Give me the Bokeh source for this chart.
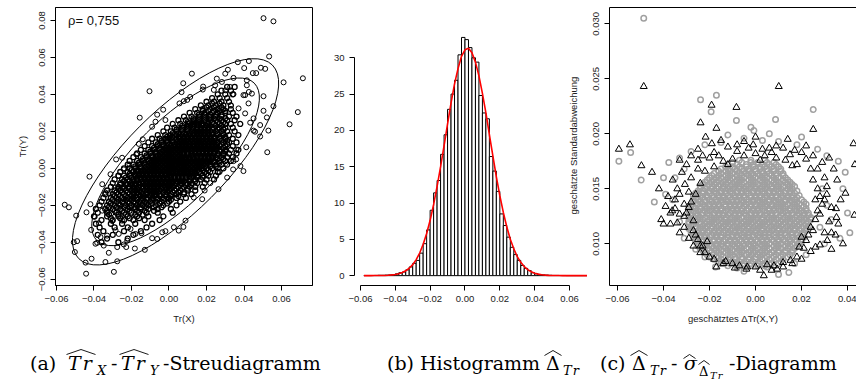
import math
from bokeh.plotting import figure
from bokeh.models import Range1d, FixedTicker, LinearAxis, Label, Div
from bokeh.layouts import row, column
from bokeh.embed import file_html
from bokeh.resources import INLINE

SANS = "Liberation Sans"

# ---------------- panel (a): scatter Tr(X) vs Tr(Y), values in units of 0.001 ----------------
a_core_rows = [
    (-40, [-36, -27]),
    (-38, [-33, -22]),
    (-36, [-38, -30, -19]),
    (-34, [-35, -24, -15]),
    (-32, [-37, -29, -22, -12]),
    (-30, [-39, -31, -25, -18, -9]),
    (-28, [-36, -30, -24, -19, -13, -5]),
    (-26, [-40, -33, -27, -22, -17, -11, -3]),
    (-24, [-38, -33, -28, -24, -20, -16, -12, -6, 2]),
    (-22, [-39, -34, -30, -26, -22, -18, -15, -11, -6, 1]),
    (-20, [-37, -33, -29, -26, -23, -20, -17, -14, -11, -7, -3, 4]),
    (-18, [-36, -32, -28, -25, -22, -19, -16, -13, -10, -7, -4, 0, 6]),
    (-16, [-35, -31, -28, -25, -22, -19, -17, -14, -12, -9, -6, -3, 0, 4, 9]),
    (-14, [-34, -30, -27, -24, -21, -19, -16, -14, -12, -9, -7, -5, -2, 1, 4, 8, 12]),
    (-12, [-33, -29, -26, -23, -20, -18, -16, -13, -11, -9, -7, -5, -2, 0, 3, 6, 10, 14]),
    (-10, [-31, -27, -24, -21, -19, -16, -14, -12, -10, -8, -6, -4, -2, 0, 2, 5, 8, 11, 14, 18]),
    (-8, [-30, -26, -23, -20, -18, -16, -14, -12, -10, -8, -6, -4, -2, 0, 2, 4, 6, 9, 12, 15, 19]),
    (-6, [-29, -25, -22, -19, -17, -15, -13, -11, -9, -7, -5, -3, -1, 1, 3, 5, 7, 9, 11, 14, 17, 20, 24]),
    (-4, [-27, -24, -21, -18, -16, -14, -12, -10, -8, -6, -4, -2, 0, 1, 3, 5, 7, 9, 11, 13, 15, 18, 21, 25]),
    (-2, [-26, -22, -19, -17, -15, -13, -11, -9, -7, -5, -3, -1, 0, 2, 4, 6, 8, 10, 12, 14, 16, 19, 22, 26]),
    (0, [-24, -21, -18, -15, -13, -11, -9, -7, -5, -3, -1, 1, 2, 4, 6, 8, 10, 12, 14, 16, 18, 20, 23, 26, 29]),
    (2, [-22, -19, -16, -13, -11, -9, -7, -5, -3, -1, 1, 3, 4, 6, 8, 10, 12, 14, 16, 18, 20, 22, 25, 28, 31]),
    (4, [-21, -17, -14, -11, -9, -7, -5, -3, -1, 1, 3, 5, 6, 8, 10, 12, 14, 16, 18, 20, 22, 24, 27, 30, 33]),
    (6, [-19, -15, -12, -9, -7, -5, -3, -1, 1, 3, 5, 7, 9, 11, 13, 15, 17, 19, 21, 23, 25, 28, 31, 34]),
    (8, [-17, -13, -10, -7, -5, -3, -1, 1, 3, 5, 7, 8, 10, 12, 14, 16, 18, 20, 22, 24, 26, 29, 32, 36]),
    (10, [-15, -11, -8, -5, -3, -1, 1, 3, 5, 7, 9, 11, 13, 15, 17, 19, 21, 23, 25, 27, 30, 33, 37]),
    (12, [-13, -9, -6, -3, -1, 1, 3, 5, 7, 9, 11, 13, 15, 17, 19, 21, 23, 25, 27, 30, 34]),
    (14, [-11, -7, -4, -1, 2, 4, 6, 8, 10, 12, 14, 16, 18, 20, 22, 24, 26, 29, 32, 36]),
    (16, [-9, -5, -2, 1, 4, 6, 8, 10, 12, 14, 16, 18, 20, 22, 24, 27, 30, 34]),
    (18, [-6, -2, 1, 4, 7, 9, 11, 13, 15, 17, 19, 21, 23, 26, 29, 32, 37]),
    (20, [-3, 1, 4, 7, 10, 12, 14, 16, 18, 20, 22, 25, 28, 31, 35]),
    (22, [-1, 3, 7, 10, 13, 15, 17, 19, 21, 24, 27, 30, 34]),
    (24, [2, 6, 10, 13, 16, 18, 21, 24, 27, 30, 33, 38]),
    (26, [5, 9, 13, 16, 19, 22, 25, 28, 31, 35]),
    (28, [8, 12, 16, 19, 22, 25, 28, 32, 36]),
    (30, [11, 15, 19, 23, 26, 30, 34]),
    (32, [14, 18, 22, 26, 29, 33]),
    (34, [17, 21, 25, 29, 33]),
    (36, [20, 24, 28, 32]),
    (38, [23, 27, 31]),
    (40, [26, 30, 34]),
    (42, [28, 33]),
    (44, [31, 35]),
    (-27, [-31, -26, -21, -16]),
    (-25, [-32, -27, -23, -18, -14]),
    (-23, [-33, -29, -25, -21, -17, -13, -8]),
    (-21, [-32, -28, -24, -21, -18, -15, -12, -8, -4]),
    (-19, [-31, -27, -24, -21, -18, -15, -12, -9, -5, -1]),
    (-17, [-30, -27, -23, -20, -17, -15, -12, -9, -6, -3, 1]),
    (-15, [-29, -26, -23, -20, -18, -15, -13, -10, -8, -5, -2, 1, 5]),
    (-13, [-28, -25, -22, -19, -17, -15, -12, -10, -8, -6, -3, -1, 2, 5, 8]),
    (-11, [-27, -24, -21, -19, -17, -14, -12, -10, -8, -6, -4, -1, 1, 4, 7, 10]),
    (-9, [-26, -23, -20, -18, -16, -13, -11, -9, -7, -5, -3, -1, 1, 3, 6, 9, 12]),
    (-7, [-24, -21, -19, -17, -14, -12, -10, -8, -6, -4, -2, 0, 2, 4, 6, 8, 11, 14]),
    (-5, [-23, -20, -17, -15, -13, -11, -9, -7, -5, -3, -1, 1, 3, 5, 7, 9, 12, 15, 18]),
    (-3, [-21, -18, -16, -14, -12, -10, -8, -6, -4, -2, 0, 2, 4, 6, 8, 10, 12, 14, 17, 20]),
    (-1, [-20, -17, -14, -12, -10, -8, -6, -4, -2, 0, 1, 3, 5, 7, 9, 11, 13, 15, 18, 21]),
    (1, [-18, -15, -12, -10, -8, -6, -4, -2, 0, 2, 3, 5, 7, 9, 11, 13, 15, 17, 19, 22, 25]),
    (3, [-16, -13, -10, -8, -6, -4, -2, 0, 2, 4, 5, 7, 9, 11, 13, 15, 17, 19, 21, 24, 27]),
    (5, [-14, -11, -8, -6, -4, -2, 0, 2, 4, 6, 7, 9, 11, 13, 15, 17, 19, 21, 23, 26, 29]),
    (7, [-12, -9, -6, -4, -2, 0, 2, 4, 6, 8, 10, 12, 13, 15, 17, 19, 21, 23, 26, 29]),
    (9, [-10, -7, -4, -2, 0, 2, 4, 6, 8, 10, 12, 14, 16, 18, 20, 22, 24, 27, 30]),
    (11, [-8, -5, -2, 0, 2, 4, 6, 8, 10, 12, 14, 16, 18, 20, 22, 24, 26, 29]),
    (13, [-6, -3, 0, 3, 5, 7, 9, 11, 13, 15, 17, 19, 21, 23, 25, 28, 31]),
    (15, [-4, -1, 2, 5, 7, 9, 11, 13, 15, 17, 19, 21, 23, 25, 28, 31]),
    (17, [-1, 2, 5, 8, 10, 12, 14, 16, 18, 20, 22, 24, 27, 30]),
    (19, [2, 5, 8, 11, 13, 15, 17, 19, 21, 23, 26, 29]),
    (21, [4, 7, 10, 13, 15, 17, 19, 21, 23, 26, 29]),
    (23, [7, 10, 13, 16, 18, 20, 22, 25, 28]),
    (25, [10, 13, 16, 19, 21, 23, 26, 29]),
    (27, [13, 16, 19, 22, 24, 27, 30]),
    (29, [16, 19, 22, 25, 28]),
    (31, [18, 21, 24, 27, 30]),
    (33, [20, 24, 28]),
    (35, [23, 27]),
]
a_out_x = [50.4, 55.7, 53.4, 71.4, 61.1, 68.7, 64.3, 42.6, 36.7, 40.1, 49.0, 51.3, 46.5, 44.7, 31.4,
           30.0, 25.5, 12.2, 34.4, 41.5, 50.4, 55.7, 52.2, 50.4, 48.6, 53.0, 45.1, 43.3, 42.6, 44.2,
           40.6, 41.5, 18.0, 11.3, 30.0, 34.4, 39.7, 37.1, 42.4, 45.1, 40.6, 48.6, 45.9, 24.6, 28.2,
           32.6, 52.4, 41.2, 36.0, 35.8, 34.4,
           -10.4, -15.6, 7.6, 6.7, 7.9, 5.6, 9.7, -6.3, -3.1, -9.0, -7.2, -1.9, -14.0, -16.1, 23.9,
           18.2, -17.5, -25.0, -21.1, -24.1, -28.2, -31.2, -26.8, -23.6,
           -55.6, -53.4, -42.4, -49.5, -50.8, -49.0, -50.2, -44.2, -44.5, -41.3, -33.9, -29.4, -27.6,
           -44.0, -41.9, -18.2, -12.9, -9.0, -3.6, -6.3, -22.8, -27.6, -41.5, -36.5, -39.2, -34.8,
           -33.0, -28.5, -30.3, -35.6, -33.9, -32.1, -39.6, -37.4, -38.3, -32.1, -24.1, -22.3, -17.9,
           -14.7, -1.9, 2.6, -26.8, -25.0, -20.5, -35.6, -30.7, -27.6, -31.7, -28.9,
           39.7, 38.1, 34.2, 31.0, 26.4, 17.7, 13.2, 8.8, 7.7, 5.2, 22.0, 27.0, 19.0]
a_out_y = [81.2, 79.5, 60.5, 48.7, 46.5, 30.4, 23.8, 58.0, 57.4, 54.2, 54.4, 53.8, 51.5, 51.5, 53.3,
           51.2, 48.5, 51.2, 48.9, 47.6, 39.0, 33.6, 27.5, 31.1, 23.4, 20.4, 20.4, 24.7, 41.3, 40.4,
           39.6, 44.9, 42.6, 38.6, 42.2, 40.1, 39.6, 32.4, 35.1, 27.0, 29.7, 17.2, 19.8, 44.9, 46.7,
           44.0, 8.7, 11.4, 10.2, 4.8, 3.9,
           41.7, 27.4, 46.0, 41.2, 36.3, 35.1, 37.0, 29.0, 31.7, 22.5, 25.2, 26.1, 15.7, 13.2, 42.4,
           44.2, 7.5, 5.7, 2.1, -0.6, 4.8, -3.2, -4.1, -6.8,
           -19.7, -21.1, -4.5, -25.6, -40.0, -39.4, -45.3, -57.0, -51.0, -48.9, -50.7, -56.0, -50.3,
           -23.8, -19.4, -43.4, -44.1, -37.8, -34.6, -38.2, -42.6, -42.6, -33.3, -37.2, -40.8, -41.8,
           -36.4, -33.5, -28.5, -8.6, -13.1, -18.4, -26.2, -29.7, -40.3, -45.7, -41.2, -39.1, -35.5,
           -35.1, -34.0, -31.9, -35.5, -28.3, -32.8, -22.9, -24.3, -21.1, -13.4, -10.4,
           -1.5, 1.2, -0.6, -5.0, -11.3, -16.7, -15.8, -28.3, -31.7, -33.7, -8.0, -2.0, -12.0]
rho_text = "ρ= 0,755"
# contour ellipses (units of 0.001): centre, full axis lengths, rotation in degrees
ell_cx = [3.5, 3.5]
ell_cy = [3.5, 3.5]
ell_width = [118.7, 146.0]
ell_height = [44.3, 54.5]
ell_angle = [45, 45]
a_xticks = [-0.06, -0.04, -0.02, 0.0, 0.02, 0.04, 0.06]
a_xlabels = ["\u22120.06", "\u22120.04", "\u22120.02", "0.00", "0.02", "0.04", "0.06"]
a_yticks = [-0.06, -0.04, -0.02, 0.0, 0.02, 0.04, 0.06, 0.08]
a_ylabels = ["\u22120.06", "\u22120.04", "\u22120.02", "0.00", "0.02", "0.04", "0.06", "0.08"]

# ---------------- panel (b): histogram of the difference ----------------
hist_edges = [-0.058, -0.056, -0.054, -0.052, -0.050, -0.048, -0.046, -0.044, -0.042, -0.040,
              -0.038, -0.036, -0.034, -0.032, -0.030, -0.028, -0.026, -0.024, -0.022, -0.020,
              -0.018, -0.016, -0.014, -0.012, -0.010, -0.008, -0.006, -0.004, -0.002, 0.000,
              0.002, 0.004, 0.006, 0.008, 0.010, 0.012, 0.014, 0.016, 0.018, 0.020,
              0.022, 0.024, 0.026, 0.028, 0.030, 0.032, 0.034, 0.036, 0.038, 0.040,
              0.042, 0.044, 0.046, 0.048, 0.050, 0.052, 0.054, 0.056, 0.058, 0.060,
              0.062, 0.064, 0.066, 0.068, 0.070]
hist_density = [0.02, 0.02, 0.02, 0.03, 0.05, 0.05, 0.08, 0.1,
                0.15, 0.25, 0.4, 0.5, 0.8, 1.2, 1.7,
                2.1, 3.1, 4.4, 6.3, 9.0, 11.4, 13.1,
                16.7, 19.4, 22.9, 25.0, 26.9, 30.4, 32.8,
                32.5, 31.4, 30.0, 29.4, 24.8, 22.4, 21.6,
                16.4, 14.4, 11.6, 8.5, 6.9, 5.3, 3.9,
                2.9, 2.1, 1.4, 1.0, 0.7, 0.4, 0.25,
                0.15, 0.1, 0.08, 0.05, 0.03, 0.03, 0.02,
                0.02, 0.01, 0.01, 0.01, 0.01, 0.01, 0.01]
curve_density = [0.0, 0.0, 0.0, 0.01, 0.01, 0.02, 0.03, 0.06, 0.10, 0.16,
                 0.27, 0.43, 0.67, 1.02, 1.51, 2.21, 3.11, 4.32, 5.8, 7.62,
                 9.8, 12.3, 15.0, 17.9, 20.9, 23.8, 26.4, 28.5, 30.2, 31.1,
                 31.3, 30.7, 29.4, 27.5, 25.1, 22.4, 19.4, 16.5, 13.6, 11.0,
                 8.7, 6.7, 5.0, 3.7, 2.62, 1.83, 1.25, 0.83, 0.54, 0.34,
                 0.21, 0.13, 0.07, 0.04, 0.02, 0.01, 0.01, 0.0, 0.0, 0.0,
                 0.0, 0.0, 0.0, 0.0, 0.0]
b_xticks = [-0.06, -0.04, -0.02, 0.0, 0.02, 0.04, 0.06]
b_xlabels = ["\u22120.06", "\u22120.04", "\u22120.02", "0.00", "0.02", "0.04", "0.06"]
b_yticks = [0, 5, 10, 15, 20, 25, 30]
b_ylabels = ["0", "5", "10", "15", "20", "25", "30"]

# ---------------- panel (c): estimated difference vs. estimated std. deviation ----------------
# gray circles: rows of (std. dev. in units of 0.0001, [difference in units of 0.001])
c_gray_rows = [
    (80, [-12, -8, -5, -2, 1, 4, 8]),
    (84, [-16, -13, -10, -7, -4, -1, 2, 5, 8, 11]),
    (88, [-20, -17, -14, -11, -9, -6, -3, 0, 2, 5, 8, 11, 14]),
    (92, [-22, -19, -16, -13, -11, -8, -6, -3, -1, 2, 4, 7, 10, 13, 16]),
    (96, [-24, -21, -18, -16, -13, -11, -8, -6, -4, -1, 1, 4, 6, 9, 11, 14, 17]),
    (100, [-25, -22, -20, -17, -15, -12, -10, -8, -5, -3, -1, 2, 4, 6, 9, 11, 14, 16, 19]),
    (104, [-26, -23, -21, -18, -16, -13, -11, -9, -7, -4, -2, 0, 3, 5, 7, 10, 12, 15, 17, 20]),
    (108, [-27, -24, -22, -19, -17, -15, -12, -10, -8, -6, -3, -1, 1, 4, 6, 8, 11, 13, 16, 18, 21]),
    (112, [-28, -25, -23, -20, -18, -16, -13, -11, -9, -7, -4, -2, 0, 3, 5, 7, 10, 12, 14, 17, 19, 22]),
    (116, [-28, -26, -23, -21, -19, -16, -14, -12, -9, -7, -5, -3, 0, 2, 4, 7, 9, 11, 14, 16, 18, 21, 23]),
    (120, [-29, -26, -24, -21, -19, -17, -14, -12, -10, -8, -5, -3, -1, 2, 4, 6, 8, 11, 13, 15, 18, 20, 23]),
    (124, [-29, -27, -24, -22, -19, -17, -15, -13, -10, -8, -6, -3, -1, 1, 3, 6, 8, 10, 13, 15, 17, 20, 22, 24]),
    (128, [-28, -26, -23, -21, -18, -16, -14, -11, -9, -7, -5, -2, 0, 2, 5, 7, 9, 12, 14, 16, 19, 21, 23]),
    (132, [-29, -26, -24, -21, -19, -17, -15, -12, -10, -8, -6, -3, -1, 1, 3, 6, 8, 10, 12, 15, 17, 19, 22]),
    (136, [-28, -25, -23, -20, -18, -16, -13, -11, -9, -7, -4, -2, 0, 3, 5, 7, 10, 12, 14, 17, 19, 22]),
    (140, [-27, -25, -22, -20, -17, -15, -13, -10, -8, -6, -4, -1, 1, 3, 6, 8, 10, 13, 15, 17, 20]),
    (144, [-27, -24, -21, -19, -16, -14, -12, -9, -7, -5, -2, 0, 2, 5, 7, 9, 12, 14, 16, 19]),
    (148, [-25, -23, -20, -18, -15, -13, -11, -8, -6, -4, -1, 1, 3, 6, 8, 10, 13, 15, 18]),
    (152, [-24, -21, -19, -16, -14, -11, -9, -7, -4, -2, 0, 3, 5, 7, 10, 12, 15, 17]),
    (156, [-22, -19, -17, -14, -12, -9, -7, -5, -2, 0, 3, 5, 8, 10, 13, 15]),
    (160, [-20, -17, -15, -12, -10, -7, -5, -2, 0, 3, 5, 8, 10, 13]),
    (164, [-18, -15, -12, -10, -7, -4, -2, 1, 3, 6, 9, 12]),
    (168, [-15, -12, -9, -6, -3, 0, 2, 5, 8, 11]),
    (172, [-12, -8, -4, -1, 3, 6, 9]),
    (176, [-7, -2, 4]),
    (82, [-14, -11, -8, -5, -2, 1, 4, 7, 10]),
    (86, [-18, -15, -12, -9, -6, -3, 0, 3, 6, 9, 12]),
    (90, [-21, -18, -15, -12, -10, -7, -4, -2, 1, 3, 6, 9, 12, 15]),
    (94, [-23, -20, -17, -15, -12, -10, -7, -5, -2, 0, 3, 5, 8, 10, 13, 16]),
    (98, [-25, -22, -19, -17, -14, -12, -9, -7, -5, -2, 0, 3, 5, 8, 10, 13, 15, 18]),
    (102, [-26, -23, -21, -18, -16, -14, -11, -9, -6, -4, -2, 1, 3, 5, 8, 10, 13, 15, 18, 20]),
    (106, [-27, -24, -22, -20, -17, -15, -12, -10, -8, -5, -3, -1, 2, 4, 6, 9, 11, 14, 16, 19, 21]),
    (110, [-28, -25, -23, -21, -18, -16, -14, -12, -9, -7, -5, -3, 0, 2, 4, 6, 9, 11, 13, 16, 18, 21]),
    (114, [-29, -26, -24, -22, -19, -17, -15, -12, -10, -8, -6, -3, -1, 1, 3, 6, 8, 10, 13, 15, 17, 20, 22]),
    (118, [-29, -27, -24, -22, -20, -18, -15, -13, -11, -8, -6, -4, -2, 1, 3, 5, 8, 10, 12, 15, 17, 19, 22]),
    (122, [-28, -25, -23, -20, -18, -16, -13, -11, -9, -7, -4, -2, 0, 3, 5, 7, 9, 12, 14, 16, 19, 21, 24]),
    (126, [-28, -25, -23, -20, -18, -16, -14, -12, -9, -7, -4, -2, 0, 2, 4, 7, 9, 11, 14, 16, 18, 21, 23]),
    (130, [-29, -27, -25, -22, -20, -17, -15, -13, -10, -8, -6, -4, -1, 1, 4, 6, 8, 11, 13, 15, 18, 20, 22]),
    (134, [-29, -27, -24, -22, -20, -18, -16, -13, -11, -9, -7, -5, -2, 0, 2, 4, 7, 9, 11, 13, 16, 18, 21]),
    (138, [-27, -24, -22, -19, -17, -14, -12, -10, -8, -5, -3, -1, 2, 4, 6, 9, 11, 13, 16, 18, 21]),
    (142, [-26, -23, -21, -18, -16, -14, -11, -9, -7, -5, -2, 0, 2, 4, 7, 9, 11, 14, 16, 18]),
    (146, [-26, -23, -20, -17, -15, -13, -10, -8, -6, -3, -1, 1, 4, 6, 8, 11, 13, 15, 17]),
    (150, [-24, -22, -19, -17, -14, -12, -10, -7, -5, -3, 0, 2, 4, 7, 9, 11, 14, 16]),
    (154, [-23, -20, -18, -15, -13, -10, -8, -6, -3, -1, 1, 4, 6, 9, 11, 14, 16]),
    (158, [-21, -18, -16, -13, -11, -8, -6, -3, -1, 2, 4, 7, 9, 12, 14]),
    (162, [-19, -16, -13, -11, -8, -6, -3, -1, 2, 4, 7, 9, 12]),
    (166, [-16, -13, -11, -8, -5, -3, 0, 3, 5, 8, 11]),
    (170, [-13, -10, -7, -4, -1, 2, 4, 7, 10]),
    (174, [-10, -6, -2, 1, 5, 8]),
]
c_gray_extra_x = [-48.6, -23.9, -17.0, -19.3, -8.3, 8.7, 25.1, -0.7, -59.4, -54.3, -49.7, -37.7, -39.1,
                  -17.4, 14.5, 36.7, -22, -15, -5, 3, 10, 18, 27, 31, -28, -33, 36, 39, -35, -31,
                  -36, -33, -31, 29, 31, 28, 33, 30, 22, -26, -22, -15, -8, 5, 17, 40, 38, -2, 6,
                  -12, 20, -5, 10, -44, -40, 41, 46]
c_gray_extra_y = [305, 231, 235, 220, 212, 213, 222, 203, 175, 183, 158, 174, 145,
                  79, 74, 105, 190, 192, 196, 194, 193, 190, 186, 180, 184, 178, 175, 165, 160, 168,
                  140, 120, 105, 150, 135, 115, 122, 100, 90, 95, 88, 82, 78, 79, 82, 128, 150, 206, 200,
                  199, 197, 75, 72, 138, 160, 110, 145]
c_tri_x = [-48.6, 10.1, -19.1, -8.3, -23.9, -17.0, 25.1, -21.7, -54.6, -59.4, -49.6, -41.0, -39.1, -36.2,
           3.6, -17.0, 35.5, 39.1, 43.0, 35.2, 34.8, 31.2, 26.1, 21.0, 15.2, 9.4, -3.6, -30.7, 43.2, 42.6,
           -5, -1, 6, 12, -12, -28, -25, 20, 29, 32, -32, -34, -35, -33, -31, -29, -27, -24, -20, -13,
           -7, 0, 5, 12, 18, 24, 28, 30, 32, 33, 31, 30, 27, 22, 15, 7, -8, -18, -23, -30, -36, -38,
           -27, -29, 26, 28, 24, -26, -21, 20, 16, -14, 2, -45, -42, -37, -33, 37, 36, 38, 33, -10, 8,
           -15, 14, 22, -25, -33, 34, 0,
           -30, -28, -31, -26, -24, -29, -27, -25, -23, -31, -33, -28, -22, -18, -12, -25, -35, -37, -40, -34,
           -10, -5, 0, 4, 9, 13, 18, 24, -20, -16, 3, 9, -3, 17, 25, -8, -19,
           25, 27, 28, 29, 27, 26, 25, 22, 19, 23, 31, 30, 33, 35,
           -18, -14, -9, -4, 2, 7, 12, 16, 20, -22, -24]
c_tri_y = [243, 243, 226, 224, 210, 205, 204, 197, 190, 186, 171, 122, 134, 130,
           71, 79, 158, 146, 126, 124, 108, 103, 97, 96, 85, 77, 79, 154, 172, 191,
           193, 190, 187, 187, 188, 180, 176, 183, 174, 178, 165, 150, 140, 127, 115, 105, 98, 92, 88, 84,
           80, 79, 81, 83, 88, 93, 99, 110, 120, 133, 145, 160, 168, 177, 181, 183, 184, 183, 180, 172, 158, 143,
           121, 133, 140, 127, 115, 108, 102, 106, 171, 175, 176, 165, 150, 118, 110, 140, 118, 100, 95, 82, 80,
           194, 195, 189, 186, 176, 168, 197,
           128, 138, 125, 145, 155, 147, 112, 104, 98, 136, 145, 160, 166, 170, 172, 168, 132, 128, 118, 119,
           177, 180, 182, 180, 178, 176, 172, 168, 178, 180, 186, 189, 187, 185, 180, 190, 191,
           158, 150, 143, 136, 130, 122, 112, 103, 97, 108, 152, 140, 110, 132,
           86, 82, 78, 77, 76, 76, 79, 82, 86, 92, 98]
c_xticks = [-0.06, -0.04, -0.02, 0.0, 0.02, 0.04]
c_xlabels = ["\u22120.06", "\u22120.04", "\u22120.02", "0.00", "0.02", "0.04"]
c_yticks = [0.010, 0.015, 0.020, 0.025, 0.030]
c_ylabels = ["0.010", "0.015", "0.020", "0.025", "0.030"]

# ---------------- helpers ----------------
TICK_FS = "9.5px"


def style_axis(ax, ticks, labels, vertical=False):
    ax.ticker = FixedTicker(ticks=ticks)
    ax.major_label_overrides = dict(zip(ticks, labels))
    ax.minor_tick_line_color = None
    ax.major_tick_in = 0
    ax.major_tick_out = 5
    ax.major_tick_line_color = "black"
    ax.axis_line_color = "black"
    ax.major_label_text_font = SANS
    ax.major_label_text_font_size = TICK_FS
    ax.major_label_text_color = "#222222"
    ax.major_label_standoff = 5
    ax.axis_label_text_font = SANS
    ax.axis_label_text_font_size = TICK_FS
    ax.axis_label_text_font_style = "normal"
    ax.axis_label_text_color = "#222222"
    ax.axis_label_standoff = 8
    if vertical:
        ax.major_label_orientation = "vertical"


def base_fig(w, h, xr, yr, ml, mr, mt, mb):
    p = figure(width=w, height=h, x_range=Range1d(*xr), y_range=Range1d(*yr),
               output_backend="svg", toolbar_location=None,
               min_border_left=ml, min_border_right=mr, min_border_top=mt, min_border_bottom=mb)
    p.xgrid.visible = False
    p.ygrid.visible = False
    p.background_fill_color = "white"
    p.border_fill_color = "white"
    return p


H = 345

# ---------------- panel (a) ----------------
pa = base_fig(318, H, (-0.06053, 0.07653), (-0.06339, 0.08698), 55, 6, 7, H - 287)
pa.outline_line_color = "black"
pa.outline_line_width = 1
pa.outline_line_alpha = 1
style_axis(pa.xaxis[0], a_xticks, a_xlabels)
style_axis(pa.yaxis[0], a_yticks, a_ylabels, vertical=True)
pa.xaxis.axis_label = "Tr(X)"
pa.yaxis.axis_label = "Tr(Y)"
pa.yaxis.axis_label_standoff = 9

core_x = [xv / 1000 for yv, xs in a_core_rows for xv in xs]
core_y = [yv / 1000 for yv, xs in a_core_rows for xv in xs]
pa.scatter(core_x, core_y, marker="circle", size=5, line_color="black", fill_color=None, line_width=1.3)
pa.scatter([v / 1000 for v in a_out_x], [v / 1000 for v in a_out_y], marker="circle", size=5,
           line_color="black", fill_color=None, line_width=1)
pa.ellipse(x=[v / 1000 for v in ell_cx], y=[v / 1000 for v in ell_cy],
           width=[v / 1000 for v in ell_width], height=[v / 1000 for v in ell_height],
           angle=ell_angle, angle_units="deg", fill_color=None, line_color="black", line_width=1)
pa.add_layout(Label(x=-0.0538, y=0.0798, text=rho_text, text_font=SANS, text_font_size="13px",
                    text_baseline="middle", text_align="left", text_color="#111111"))

# ---------------- panel (b) ----------------
pb = base_fig(269, H, (-0.0634, 0.0703), (-1.357, 36.92), 36, 0, 7, H - 289)
pb.outline_line_color = None
style_axis(pb.xaxis[0], b_xticks, b_xlabels)
style_axis(pb.yaxis[0], b_yticks, b_ylabels)
pb.xaxis.bounds = (b_xticks[0], b_xticks[-1])
pb.yaxis.bounds = (b_yticks[0], b_yticks[-1])
pb.quad(left=hist_edges[:-1], right=hist_edges[1:], bottom=0, top=hist_density,
        fill_color="white", line_color="black", line_width=1)
pb.line(hist_edges, curve_density, line_color="red", line_width=1.6)
pb.add_layout(Label(x=0.0623, y=17.9, text="geschätzte Standardabweichung", angle=math.pi / 2,
                    text_font=SANS, text_font_size=TICK_FS, text_align="center",
                    text_baseline="middle", text_color="#222222"))

# ---------------- panel (c) ----------------
pc = base_fig(269, H, (-0.06348, 0.0439), (0.00621, 0.03148), 22, 0, 7, H - 285)
pc.outline_line_color = None
style_axis(pc.xaxis[0], c_xticks, c_xlabels)
style_axis(pc.yaxis[0], c_yticks, c_ylabels, vertical=True)
pc.xaxis.axis_label = "geschätztes \u0394Tr(X,Y)"
top_ax = LinearAxis(ticker=FixedTicker(ticks=[]), major_tick_out=0, major_tick_in=0,
                    major_label_text_font_size="0px", major_label_standoff=0,
                    minor_tick_line_color=None, axis_line_color="black")
pc.add_layout(top_ax, "above")

cgx = [xv / 1000 for yv, xs in c_gray_rows for xv in xs] + [v / 1000 for v in c_gray_extra_x]
cgy = [yv / 10000 for yv, xs in c_gray_rows for xv in xs] + [v / 10000 for v in c_gray_extra_y]
pc.scatter(cgx, cgy, marker="circle", size=5.5, line_color="#a0a0a0", fill_color=None, line_width=1.5)
pc.scatter([v / 1000 for v in c_tri_x], [v / 10000 for v in c_tri_y], marker="triangle", size=7,
           line_color="black", fill_color=None, line_width=1)

# ---------------- captions (pieces placed at measured offsets) ----------------
BASE = "position:absolute;white-space:nowrap;font-family:'DejaVu Serif';line-height:1;color:black;"


def txt(s, left, top, size=19, extra=""):
    return f'<span style="{BASE}left:{left}px;top:{top}px;font-size:{size}px;{extra}">{s}</span>'


def hat(left, top, w, h=6):
    return (f'<svg width="{w}" height="{h}" style="position:absolute;left:{left}px;top:{top}px;overflow:visible">'
            f'<polyline points="0.5,{h - 0.5} {w / 2},0.5 {w - 0.5},{h - 0.5}" fill="none" '
            'stroke="black" stroke-width="0.9"/></svg>')


IT = "font-style:italic;letter-spacing:2px;"
ITS = "font-style:italic;letter-spacing:1px;"
pieces = [
    # (a)
    txt("(a)", 30, 9), txt("Tr", 68, 9, extra=IT), hat(66, 4, 30), txt("X", 97, 19, 13, ITS),
    txt("-", 111, 9), txt("Tr", 121, 9, extra=IT), hat(119, 4, 30), txt("Y", 150, 19, 13, ITS),
    txt("-Streudiagramm", 163, 9),
    # (b)
    txt("(b) Histogramm", 387, 9), txt("Δ", 546, 9), hat(544, 5, 18), txt("Tr", 563, 19, 13, ITS),
    # (c)
    txt("(c)", 600, 9), txt("Δ", 632, 9), hat(630, 5, 18), txt("Tr", 650, 19, 13, ITS),
    txt("-", 671, 9), txt("σ", 684, 9, extra="font-style:italic;"), hat(683, 9, 13, 5),
    txt("Δ", 699, 20, 13), hat(698, 15, 12, 5), txt("Tr", 710, 26, 10, ITS),
    txt("-Diagramm", 729, 9),
]
html = '<div style="position:relative;width:856px;height:41px">' + "".join(pieces) + '</div>'
caption = Div(text=html, width=856, height=41, margin=0)

layout = column(row(pa, pb, pc, spacing=0), caption, spacing=0)
open("out.html", "w").write(file_html(layout, INLINE))
